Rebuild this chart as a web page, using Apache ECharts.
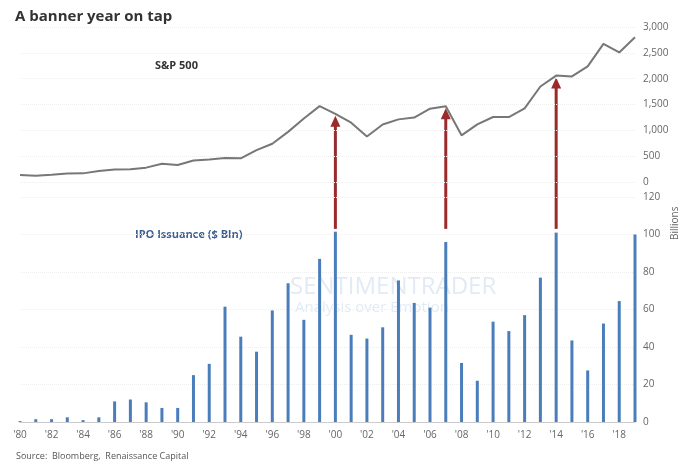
<!DOCTYPE html>
<html><head><meta charset="utf-8">
<script src="https://cdn.jsdelivr.net/npm/echarts@6/dist/echarts.min.js"></script>
<style>html,body{margin:0;padding:0;background:#fff}#c{width:685px;height:469px}</style>
</head><body><div id="c"></div>
<script>
const years = [];
for (let y = 1980; y <= 2019; y++) years.push(String(y));
const spx = [136,122,141,165,167,211,242,247,278,353,330,417,436,466,459,616,741,970,1229,1469,1320,1148,880,1112,1212,1248,1418,1468,903,1115,1258,1258,1426,1848,2059,2044,2239,2674,2507,2800];
const ipo = [0.5,1.5,1.5,2.5,1,2.5,11,12,10.5,7.5,7.5,25,31,61.5,45.5,37.5,59.5,74,54.5,87,101.5,46.5,44.5,50.5,75.5,63.5,61,96,31.5,22,53.5,48.5,57,77,101,43.5,27.5,52.5,64.5,100];
const arrowYears = ['2000','2007','2014'];
const arrowBase = 103;
const font = '"Open Sans", sans-serif';
const chart = echarts.init(document.getElementById('c'));
const lab = v => "'" + v.slice(2);
chart.setOption({
  animation:false,
  textStyle:{fontFamily:font},
  title:{text:'A banner year on tap',left:10,top:4,textStyle:{fontSize:15,fontWeight:'bold',color:'#333',fontFamily:font}},
  grid:[{left:20,right:50,top:27,height:155},{left:20,right:50,top:197,height:225}],
  xAxis:[
    {type:'category',gridIndex:0,data:years,boundaryGap:false,axisLine:{show:false},axisTick:{show:false},axisLabel:{show:false}},
    {type:'category',gridIndex:1,data:years,boundaryGap:false,axisLine:{lineStyle:{color:'#ccc'}},axisTick:{show:false},
     axisLabel:{interval:1,formatter:lab,color:'#666',fontSize:10}}
  ],
  yAxis:[
    {type:'value',gridIndex:0,position:'right',min:0,max:3000,interval:500,axisLabel:{color:'#666',fontSize:10,formatter:v=>v.toLocaleString('en-US')},splitLine:{lineStyle:{color:'#eee',type:'dotted'}}},
    {type:'value',gridIndex:1,position:'right',min:0,max:120,interval:20,axisLabel:{color:'#666',fontSize:10},splitLine:{lineStyle:{color:'#eee',type:'dotted'}}}
  ],
  series:[
    {type:'line',xAxisIndex:0,yAxisIndex:0,data:spx,symbol:'none',lineStyle:{color:'#777',width:2}},
    {type:'bar',xAxisIndex:1,yAxisIndex:1,data:ipo,barWidth:3,itemStyle:{color:'#4a7ebb'}}
  ],
  graphic:[
    {type:'text',left:155,top:60,style:{text:'S&P 500',font:'bold 11px '+font,fill:'#333'}},
    {type:'text',left:135,top:229,style:{text:'IPO Issuance ($ Bln)',font:'bold 11px '+font,fill:'#3a5f95'}},
    {type:'text',x:670,y:240,rotation:Math.PI/2,style:{text:'Billions',font:'10px '+font,fill:'#666'}},
    {type:'text',left:290,top:275,style:{text:'SENTIMENTRADER',font:'24px '+font,fill:'rgba(170,195,225,0.35)'}},
    {type:'text',left:295,top:300,style:{text:'Analysis over Emotion',font:'15px '+font,fill:'rgba(170,195,225,0.35)'}},
    {type:'text',left:16,top:452,style:{text:'Source:  Bloomberg,  Renaissance Capital',font:'9px '+font,fill:'#555'}}
  ]
});
const g = [];
arrowYears.forEach(y => {
  const i = years.indexOf(y);
  const b = chart.convertToPixel({xAxisIndex:1,yAxisIndex:1},[y,arrowBase]);
  const t = chart.convertToPixel({xAxisIndex:0,yAxisIndex:0},[y,spx[i]]);
  const tipY = t[1] + 2;
  g.push({type:'line',shape:{x1:b[0],y1:b[1],x2:b[0],y2:tipY+8},style:{stroke:'#9b2a2a',lineWidth:3}});
  g.push({type:'polygon',shape:{points:[[b[0],tipY],[b[0]-5,tipY+11],[b[0]+5,tipY+11]]},style:{fill:'#9b2a2a'}});
});
chart.setOption({graphic:chart.getOption().graphic[0].elements.concat(g)});
</script></body></html>
